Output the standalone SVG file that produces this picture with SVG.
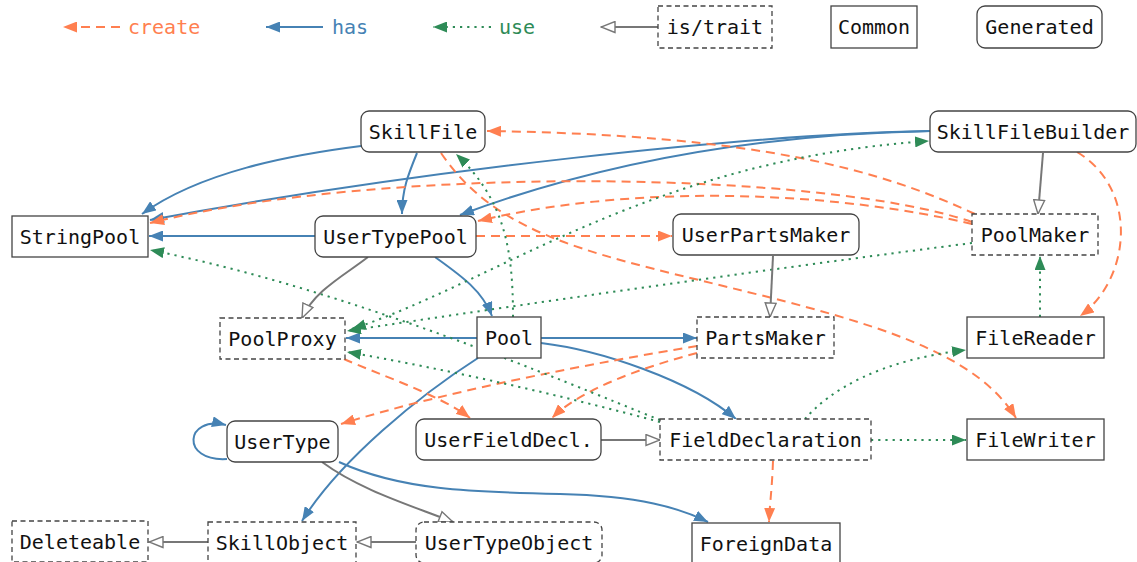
<svg xmlns="http://www.w3.org/2000/svg" width="1137" height="562" viewBox="0 0 1137 562">
<style>
text{font-family:"DejaVu Sans Mono","Liberation Mono",monospace;font-size:20px;fill:#111}
.lbl{text-anchor:middle}
.box{fill:#fff;stroke:#444;stroke-width:1.3}
.tr{stroke-dasharray:5,3.5}
.e{fill:none;stroke-width:2}
.create{stroke:#FF7F50;stroke-dasharray:9,6;marker-end:url(#m-create)}
.has{stroke:#4682B4;marker-end:url(#m-has)}
.use{stroke:#2E8B57;stroke-dasharray:2.2,5;marker-end:url(#m-use)}
.is{stroke:#777;marker-end:url(#m-is)}
</style>
<defs>
<marker id="m-create" markerUnits="userSpaceOnUse" viewBox="0 0 14 11" refX="14" refY="5.5" markerWidth="14" markerHeight="11" orient="auto"><path d="M0,0L14,5.5L0,11z" fill="#FF7F50"/></marker>
<marker id="m-has" markerUnits="userSpaceOnUse" viewBox="0 0 14 11" refX="14" refY="5.5" markerWidth="14" markerHeight="11" orient="auto"><path d="M0,0L14,5.5L0,11z" fill="#4682B4"/></marker>
<marker id="m-use" markerUnits="userSpaceOnUse" viewBox="0 0 14 11" refX="14" refY="5.5" markerWidth="14" markerHeight="11" orient="auto"><path d="M0,0L14,5.5L0,11z" fill="#2E8B57"/></marker>
<marker id="m-use-start" markerUnits="userSpaceOnUse" viewBox="0 0 14 11" refX="14" refY="5.5" markerWidth="14" markerHeight="11" orient="auto-start-reverse"><path d="M0,0L14,5.5L0,11z" fill="#2E8B57"/></marker>
<marker id="m-is" markerUnits="userSpaceOnUse" viewBox="-1 -1 16 13" refX="14" refY="5.5" markerWidth="16" markerHeight="13" orient="auto"><path d="M0,0L14,5.5L0,11z" fill="#fff" stroke="#777" stroke-width="1.4"/></marker>
</defs>

<g id="legend">
<path class="e create" d="M120,27 L63,27"/>
<text x="128" y="34" style="fill:#FF7F50">create</text>
<path class="e has" d="M323,27 L266,27"/>
<text x="332" y="34" style="fill:#4682B4">has</text>
<path class="e use" d="M491,27 L433,27"/>
<text x="499" y="34" style="fill:#2E8B57">use</text>
<path class="e is" d="M658,27 L601,27"/>
<rect class="box tr" x="658" y="6" width="114" height="42"/>
<text class="lbl" x="715" y="34">is/trait</text>
<rect class="box" x="831" y="6" width="86" height="42"/>
<text class="lbl" x="874" y="34">Common</text>
<rect class="box" x="977" y="6" width="125" height="42" rx="8"/>
<text class="lbl" x="1039.5" y="34">Generated</text>
</g>

<g id="connectors">
<!-- has -->
<path class="e has" d="M361,146 C290,155 200,172 142,214"/>
<path class="e has" d="M417,153 C408,175 402,190 402,214"/>
<path class="e has" d="M930,131 C750,134 420,170 150,220"/>
<path class="e has" d="M930,131 C780,134 620,155 460,215"/>
<path class="e has" d="M315,236 L149,236"/>
<path class="e has" d="M435,257 C460,275 482,290 492,316"/>
<path class="e has" d="M477,338 L346,338"/>
<path class="e has" d="M541,338 L697,338"/>
<path class="e has" d="M541,343 C600,350 690,380 736,419"/>
<path class="e has" d="M478,358 C420,395 340,460 302,521"/>
<path class="e has" d="M227,459 C180,462 185,415 226,425"/>
<path class="e has" d="M339,462 C400,490 470,492 560,494 C640,496 680,508 708,522"/>
<!-- create -->
<path class="e create" d="M975,214 C880,170 760,135 487,131"/>
<path class="e create" d="M972,222 C820,170 380,165 150,223"/>
<path class="e create" d="M972,224 C850,195 650,180 478,221"/>
<path class="e create" d="M476,236 L672,236"/>
<path class="e create" d="M1077,152 C1140,190 1130,280 1080,316"/>
<path class="e create" d="M441,153 C500,240 600,255 760,295 C900,330 980,360 1016,418"/>
<path class="e create" d="M344,359 C380,375 440,395 470,418"/>
<path class="e create" d="M697,346 C600,362 450,390 341,424"/>
<path class="e create" d="M697,353 C640,368 580,390 552,418"/>
<path class="e create" d="M773,461 C772,490 770,500 769,522"/>
<!-- use -->
<path class="e use" d="M513,317 C513,250 505,200 456,154"/>
<path class="e use" d="M352,329 C500,280 650,160 929,141" style="marker-start:url(#m-use-start)"/>
<path class="e use" d="M972,243 C800,265 550,300 347,331"/>
<path class="e use" d="M660,420 C560,380 350,290 150,250"/>
<path class="e use" d="M660,422 C560,395 450,370 347,352"/>
<path class="e use" d="M805,419 C830,390 880,360 966,350"/>
<path class="e use" d="M871,440 L966,440"/>
<path class="e use" d="M1040,317 L1040,256"/>
<!-- is -->
<path class="e is" d="M1043,153 L1038,214"/>
<path class="e is" d="M368,257 C345,275 315,290 302,318"/>
<path class="e is" d="M773,256 L770,317"/>
<path class="e is" d="M601,440 L660,440"/>
<path class="e is" d="M322,462 C360,490 410,505 453,522"/>
<path class="e is" d="M416,542 L357,542"/>
<path class="e is" d="M208,542 L149,542"/>
</g>

<g id="SkillFile"><rect class="box" x="361" y="111" width="124" height="41" rx="8"/><text class="lbl" x="423" y="139">SkillFile</text></g>
<g id="SkillFileBuilder"><rect class="box" x="930" y="111" width="206" height="41" rx="8"/><text class="lbl" x="1033" y="139">SkillFileBuilder</text></g>
<g id="StringPool"><rect class="box" x="12" y="216" width="136" height="41"/><text class="lbl" x="80" y="243.5">StringPool</text></g>
<g id="UserTypePool"><rect class="box" x="315" y="216" width="161" height="41" rx="8"/><text class="lbl" x="395.5" y="243.5">UserTypePool</text></g>
<g id="UserPartsMaker"><rect class="box" x="673" y="214" width="186" height="41" rx="8"/><text class="lbl" x="766" y="241.5">UserPartsMaker</text></g>
<g id="PoolMaker"><rect class="box tr" x="972" y="214" width="126" height="41"/><text class="lbl" x="1035" y="241.5">PoolMaker</text></g>
<g id="PoolProxy"><rect class="box tr" x="220" y="318" width="125" height="41"/><text class="lbl" x="282.5" y="345.5">PoolProxy</text></g>
<g id="Pool"><rect class="box" x="477" y="317" width="64" height="41"/><text class="lbl" x="509" y="344.5">Pool</text></g>
<g id="PartsMaker"><rect class="box tr" x="697" y="317" width="137" height="41"/><text class="lbl" x="765.5" y="344.5">PartsMaker</text></g>
<g id="FileReader"><rect class="box" x="967" y="317" width="137" height="41"/><text class="lbl" x="1035.5" y="344.5">FileReader</text></g>
<g id="UserType"><rect class="box" x="227" y="421" width="111" height="41" rx="8"/><text class="lbl" x="282.5" y="448.5">UserType</text></g>
<g id="UserFieldDecl"><rect class="box" x="416" y="419" width="185" height="41" rx="8"/><text class="lbl" x="508.5" y="446.5">UserFieldDecl.</text></g>
<g id="FieldDeclaration"><rect class="box tr" x="660" y="419" width="211" height="41"/><text class="lbl" x="765.5" y="446.5">FieldDeclaration</text></g>
<g id="FileWriter"><rect class="box" x="967" y="419" width="137" height="41"/><text class="lbl" x="1035.5" y="446.5">FileWriter</text></g>
<g id="Deleteable"><rect class="box tr" x="12" y="521" width="136" height="41"/><text class="lbl" x="80" y="549">Deleteable</text></g>
<g id="SkillObject"><rect class="box tr" x="208" y="522" width="148" height="41"/><text class="lbl" x="282" y="549.5">SkillObject</text></g>
<g id="UserTypeObject"><rect class="box tr" x="416" y="522" width="186" height="41" rx="8"/><text class="lbl" x="509" y="549.5">UserTypeObject</text></g>
<g id="ForeignData"><rect class="box" x="692" y="523" width="148" height="41"/><text class="lbl" x="766" y="550.5">ForeignData</text></g>
</svg>
